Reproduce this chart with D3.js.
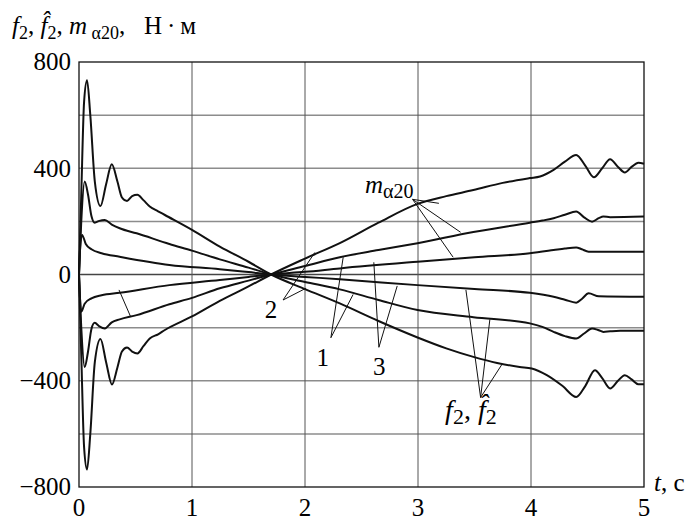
<!DOCTYPE html>
<html>
<head>
<meta charset="utf-8">
<script src="https://cdn.jsdelivr.net/npm/d3@7"></script>
<style>
  body { margin: 0; background: #fff; }
  text { font-family: "Liberation Serif", "Times New Roman", serif; }
</style>
</head>
<body>
<div class="chart"></div>
<script>
// time ticks and force ticks
const xTicks = [0, 1, 2, 3, 4, 5];
const yTicks = [-800, -400, 0, 400, 800];
const yGrid = [-600, -400, -200, 0, 200, 400, 600];

// curves, [t, value]
const bigUp = [[0,0],[0.02,300],[0.045,650],[0.071,731],[0.1,600],[0.14,350],[0.19,258],[0.24,340],[0.29,415],[0.34,350],[0.38,290],[0.425,277],[0.47,295],[0.517,300],[0.57,280],[0.626,256],[0.7,238],[0.76,224],[1.0,168],[1.246,105],[1.5,48],[1.7,0],
  [2.0,-55],[2.308,-109],[2.65,-175],[2.996,-237],[3.25,-278],[3.49,-310],[3.7,-333],[3.9,-348],[4.006,-354],[4.14,-379],[4.28,-420],[4.40,-461],[4.48,-420],[4.566,-360],[4.63,-390],[4.70,-429],[4.77,-400],[4.83,-379],[4.89,-395],[4.95,-413],[5,-413]];
const bigDown = [[0,0],[0.02,-300],[0.045,-650],[0.071,-734],[0.1,-600],[0.14,-330],[0.19,-243],[0.24,-330],[0.292,-414],[0.34,-350],[0.38,-290],[0.425,-275],[0.47,-290],[0.517,-297],[0.57,-270],[0.626,-241],[0.7,-225],[0.76,-209],[1.0,-158],[1.246,-99],[1.5,-45],[1.7,0],
  [2.0,60],[2.308,118],[2.65,195],[2.996,266],[3.25,295],[3.49,318],[3.75,345],[3.99,363],[4.08,369],[4.2,394],[4.30,425],[4.40,450],[4.48,410],[4.556,366],[4.63,400],[4.70,434],[4.77,405],[4.83,384],[4.89,405],[4.95,421],[5,417]];
const midUp = [[0,0],[0.02,200],[0.05,350],[0.08,300],[0.11,220],[0.139,195],[0.18,202],[0.228,205],[0.29,188],[0.36,174],[0.51,155],[0.8,115],[1.0,90],[1.246,57],[1.5,26],[1.7,0],
  [2.0,-28],[2.308,-56],[2.65,-96],[2.996,-134],[3.49,-161],[3.99,-184],[4.1,-197],[4.2,-216],[4.30,-232],[4.40,-241],[4.47,-222],[4.54,-203],[4.6,-210],[4.64,-216],[4.7,-214],[4.79,-212],[5,-212]];
const midDown = [[0,0],[0.02,-200],[0.05,-348],[0.08,-290],[0.11,-205],[0.139,-182],[0.18,-195],[0.228,-203],[0.29,-180],[0.36,-169],[0.51,-153],[0.8,-112],[1.0,-88],[1.246,-52],[1.5,-23],[1.7,0],
  [2.0,32],[2.308,65],[2.65,92],[2.996,118],[3.49,160],[3.99,195],[4.1,203],[4.2,212],[4.30,225],[4.40,237],[4.47,215],[4.54,199],[4.6,212],[4.64,218],[4.7,216],[5,218]];
const smallUp = [[0,0],[0.01,100],[0.027,149],[0.06,115],[0.11,95],[0.2,80],[0.36,67],[0.8,36],[1.246,20],[1.5,9],[1.7,0],
  [2.0,-9],[2.308,-18],[2.996,-40],[3.5,-55],[3.99,-69],[4.2,-84],[4.30,-95],[4.40,-106],[4.45,-92],[4.51,-71],[4.6,-82],[5,-84]];
const smallDown = [[0,0],[0.01,-100],[0.02,-140],[0.05,-110],[0.11,-90],[0.2,-78],[0.36,-69],[0.8,-40],[1.246,-21],[1.5,-9],[1.7,0],
  [2.0,10],[2.308,23],[2.996,48],[3.5,65],[3.99,80],[4.2,92],[4.30,98],[4.40,102],[4.45,95],[4.51,86],[5,86]];

// leader lines: from point, to points (data units)
const leaders = [
  {from: [2.952, 283], to: [[3.185, 268], [3.377, 159], [3.311, 65]]},
  {from: [1.806, -96], to: [[2.087, 83], [2.007, -52]]},
  {from: [2.229, -238], to: [[2.338, 65], [2.426, -75]]},
  {from: [2.654, -274], to: [[2.609, 46], [2.816, -43]]},
  {from: [3.554, -463], to: [[3.424, -58], [3.636, -169], [3.745, -337]]},
  {from: [0.354, -58], to: [[0.455, -157]]}
];
const numLabels = [
  {t: 1.70, v: -164, text: "2"},
  {t: 2.157, v: -345, text: "1"},
  {t: 2.656, v: -379, text: "3"}
];

const width = 696, height = 520;
const margin = {top: 62, right: 52, bottom: 33, left: 79};
const fs = 25, subFs = 18;

const x = d3.scaleLinear().domain([0, 5]).range([margin.left, width - margin.right]);
const y = d3.scaleLinear().domain([-800, 800]).range([height - margin.bottom, margin.top]);

const svg = d3.select('.chart').append('svg')
  .attr('width', width)
  .attr('height', height);

// grid
svg.selectAll('.hgrid')
  .data(yGrid)
  .join('line')
  .attr('x1', x(0)).attr('x2', x(5))
  .attr('y1', d => y(d)).attr('y2', d => y(d))
  .attr('stroke', d => d === 0 ? '#444' : '#8c8c8c')
  .attr('stroke-width', 1.5);

svg.selectAll('.vgrid')
  .data(xTicks.slice(1, -1))
  .join('line')
  .attr('x1', d => x(d)).attr('x2', d => x(d))
  .attr('y1', y(800)).attr('y2', y(-800))
  .attr('stroke', '#555')
  .attr('stroke-width', 1);

// frame
svg.append('rect')
  .attr('x', x(0)).attr('y', y(800))
  .attr('width', x(5) - x(0)).attr('height', y(-800) - y(800))
  .attr('fill', 'none')
  .attr('stroke', '#111')
  .attr('stroke-width', 1.3);

// curves
const line = d3.line()
  .x(d => x(d[0]))
  .y(d => y(d[1]))
  .curve(d3.curveMonotoneX);

svg.selectAll('.curve')
  .data([bigUp, bigDown, midUp, midDown, smallUp, smallDown])
  .join('path')
  .attr('d', line)
  .attr('fill', 'none')
  .attr('stroke', '#111')
  .attr('stroke-width', 2);

// leaders
leaders.forEach(l => {
  svg.selectAll(null)
    .data(l.to)
    .join('line')
    .attr('x1', x(l.from[0])).attr('y1', y(l.from[1]))
    .attr('x2', d => x(d[0])).attr('y2', d => y(d[1]))
    .attr('stroke', '#111')
    .attr('stroke-width', 1);
});

// tick labels
svg.selectAll('.ylab')
  .data(yTicks)
  .join('text')
  .attr('x', x(0) - 8)
  .attr('y', d => y(d))
  .attr('dy', '0.33em')
  .attr('text-anchor', 'end')
  .attr('font-size', fs)
  .text(d => d < 0 ? '\u2212' + Math.abs(d) : d);

svg.selectAll('.xlab')
  .data(xTicks)
  .join('text')
  .attr('x', d => x(d))
  .attr('y', height - 4)
  .attr('text-anchor', 'middle')
  .attr('font-size', fs)
  .text(d => d);

// numbered labels
svg.selectAll('.num')
  .data(numLabels)
  .join('text')
  .attr('x', d => x(d.t))
  .attr('y', d => y(d.v))
  .attr('text-anchor', 'middle')
  .attr('font-size', fs)
  .text(d => d.text);

// m_a20 label
const mLab = svg.append('text')
  .attr('x', x(2.53)).attr('y', y(307))
  .attr('font-size', fs);
mLab.append('tspan').attr('font-style', 'italic').text('m');
mLab.append('tspan').attr('font-size', 20).attr('dy', 5).text('\u03b120');

// f2 label
const fLab = svg.append('text')
  .attr('x', x(3.24)).attr('y', y(-545))
  .attr('font-size', 28);
fLab.append('tspan').attr('font-style', 'italic').text('f');
fLab.append('tspan').attr('font-size', 22).attr('dy', 5).text('2');
fLab.append('tspan').attr('dy', -5).text(',\u00a0');
fLab.append('tspan').attr('font-style', 'italic').text('f\u0302');
fLab.append('tspan').attr('font-size', 22).attr('dy', 5).text('2');

// axis titles
const title = svg.append('text')
  .attr('x', 12).attr('y', 34)
  .attr('font-size', fs);
title.append('tspan').attr('font-style', 'italic').text('f');
title.append('tspan').attr('font-size', subFs).attr('dy', 5).text('2');
title.append('tspan').attr('dy', -5).text(',\u00a0');
title.append('tspan').attr('font-style', 'italic').text('f\u0302');
title.append('tspan').attr('font-size', subFs).attr('dy', 5).text('2');
title.append('tspan').attr('dy', -5).text(',\u00a0');
title.append('tspan').attr('font-style', 'italic').text('m');
title.append('tspan').attr('font-size', subFs).attr('dy', 5).text('\u00a0\u03b120');
title.append('tspan').attr('dy', -5).text(',\u00a0\u00a0\u00a0\u041d\u2009\u00b7\u2009\u043c');

const tLab = svg.append('text')
  .attr('x', x(5) + 10).attr('y', y(-800) + 4)
  .attr('font-size', fs);
tLab.append('tspan').attr('font-style', 'italic').text('t');
tLab.append('tspan').text(', c');
</script>
</body>
</html>
